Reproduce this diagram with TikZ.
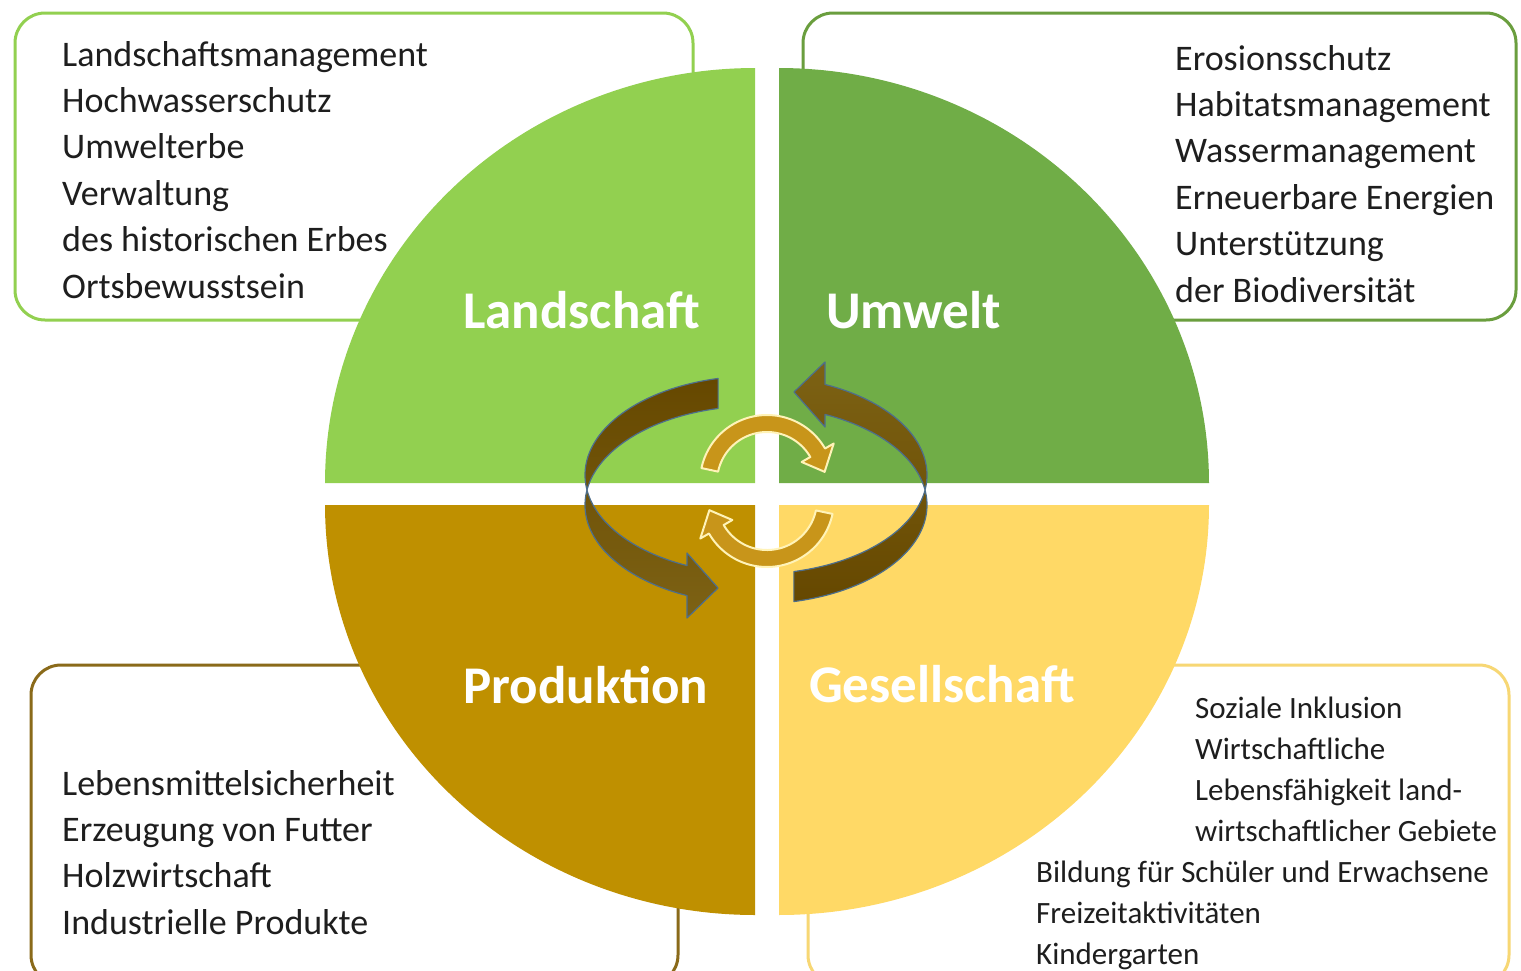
\documentclass[tikz,border=0pt]{standalone}
\usepackage{fontspec}
\setmainfont{Carlito}
\definecolor{cLand}{HTML}{92D050}
\definecolor{cUmw}{HTML}{70AD47}
\definecolor{cUmwLine}{HTML}{6A9E3E}
\definecolor{cProd}{HTML}{BF9000}
\definecolor{cProdLine}{HTML}{8A6A1A}
\definecolor{cGes}{HTML}{FFD966}
\definecolor{cGesLine}{HTML}{F7D774}
\definecolor{ribDark}{HTML}{664800}
\definecolor{ribLight}{HTML}{7D6214}
\definecolor{ribLine}{HTML}{4D6E8C}
\definecolor{cSmall}{HTML}{C8951A}
\definecolor{cSmallLine}{HTML}{FFF3B8}
\definecolor{txt}{HTML}{1E1E1E}
\begin{document}
\begin{tikzpicture}[x=1pt,y=-1pt,
  boxtxt/.style={font=\fontsize{36}{42}\selectfont, text=txt, inner sep=0pt, anchor=base west},
  brtxt/.style={font=\fontsize{31}{37}\selectfont, text=txt, inner sep=0pt, anchor=base west},
  title/.style={font=\bfseries\fontsize{53}{60}\selectfont, text=white, inner sep=0pt, anchor=base west},
  infobox/.style={line width=3pt, fill=white, rounded corners=30pt},
  ribbon/.style={draw=ribLine, line width=1.2pt, line join=round},
  smallarr/.style={fill=cSmall, draw=cSmallLine, line width=2pt, line join=round}]
\useasboundingbox (0,0) rectangle (1521,970);
\fill[white] (0,0) rectangle (1521,970);
% info boxes
\draw[infobox, draw=cLand] (15,13) rectangle (693,320);
\draw[infobox, draw=cUmwLine] (803,13) rectangle (1516,320);
\draw[infobox, draw=cProdLine] (31,665) rectangle (678,985);
\draw[infobox, draw=cGesLine] (808,665) rectangle (1509,985);
% quadrants
\fill[cLand] (755,483) -- plot[domain=180:270,samples=90] ({755+430*cos(\x)},{483+415*sin(\x)}) -- cycle;
\fill[cUmw] (779,483) -- plot[domain=270:360,samples=90] ({779+430*cos(\x)},{483+415*sin(\x)}) -- cycle;
\fill[cProd] (755,505) -- plot[domain=90:180,samples=90] ({755+430*cos(\x)},{505+410*sin(\x)}) -- cycle;
\fill[cGes] (779,505) -- plot[domain=0:90,samples=90] ({779+430*cos(\x)},{505+410*sin(\x)}) -- cycle;
% titles
\node[title] (tLand) at (463,328) {Landschaft};
\node[title] (tUmw) at (826,328) {Umwelt};
\node[title] (tProd) at (463,703) {Produktion};
\node[title] (tGes) at (809,702) {Gesellschaft};
% big ribbon arrows
\shadedraw[ribbon, top color=ribDark, bottom color=ribLight]
  plot[domain=257.2:113.8,samples=120] ({756+171*cos(\x)},{475+99*sin(\x)})
  -- (687,553) -- (718,588) -- (687,618)
  -- plot[domain=113.8:257.2,samples=120] ({756+171*cos(\x)},{505+99*sin(\x)}) -- cycle;
\shadedraw[ribbon, top color=ribLight, bottom color=ribDark]
  plot[domain=77.2:-66.2,samples=120] ({756+171*cos(\x)},{505+99*sin(\x)})
  -- (825,427) -- (794,392) -- (825,362)
  -- plot[domain=-66.2:77.2,samples=120] ({756+171*cos(\x)},{475+99*sin(\x)}) -- cycle;
% small circular arrows
\draw[smallarr]
  plot[domain=192:330,samples=60] ({767+67*cos(\x)},{482+67*sin(\x)})
  -- ({767+77*cos(330)},{482+77*sin(330)})
  -- ({767+58.5*cos(350)},{482+58.5*sin(350)})
  -- ({767+40*cos(330)},{482+40*sin(330)})
  -- plot[domain=330:192,samples=60] ({767+50*cos(\x)},{482+50*sin(\x)}) -- cycle;
\draw[smallarr]
  plot[domain=12:150,samples=60] ({767+67*cos(\x)},{500+67*sin(\x)})
  -- ({767+77*cos(150)},{500+77*sin(150)})
  -- ({767+58.5*cos(170)},{500+58.5*sin(170)})
  -- ({767+40*cos(150)},{500+40*sin(150)})
  -- plot[domain=150:12,samples=60] ({767+50*cos(\x)},{500+50*sin(\x)}) -- cycle;
% box texts
\foreach \t [count=\i] in {Landschaftsmanagement,Hochwasserschutz,Umwelterbe,Verwaltung,des historischen Erbes,Ortsbewusstsein}
  \node[boxtxt] (tl\i) at (62,{66+46.4*(\i-1)}) {\t};
\foreach \t [count=\i] in {Erosionsschutz,Habitatsmanagement,Wassermanagement,Erneuerbare Energien,Unterstützung,der Biodiversität}
  \node[boxtxt] (tr\i) at (1175,{70+46.4*(\i-1)}) {\t};
\foreach \t [count=\i] in {Lebensmittelsicherheit,Erzeugung von Futter,Holzwirtschaft,Industrielle Produkte}
  \node[boxtxt] (bl\i) at (62,{795+46.4*(\i-1)}) {\t};
\foreach \t [count=\i] in {Soziale Inklusion,Wirtschaftliche,Lebensfähigkeit land-,wirtschaftlicher Gebiete}
  \node[brtxt] (br\i) at (1195,{718+41*(\i-1)}) {\t};
\foreach \t [count=\i] in {Bildung für Schüler und Erwachsene,Freizeitaktivitäten,Kindergarten}
  \node[brtxt] (bb\i) at (1036,{882+41*(\i-1)}) {\t};
\end{tikzpicture}
\end{document}
